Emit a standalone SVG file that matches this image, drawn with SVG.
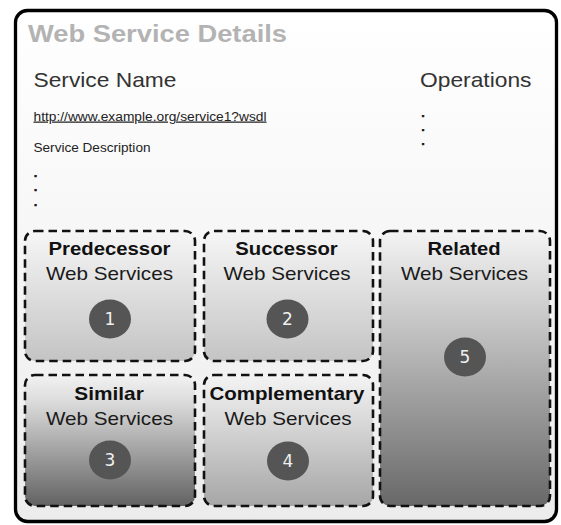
<svg xmlns="http://www.w3.org/2000/svg" width="561" height="525" viewBox="0 0 561 525">
<defs>
<linearGradient id="gOuter" x1="0" y1="0" x2="0" y2="1">
<stop offset="0" stop-color="#ffffff"/>
<stop offset="1" stop-color="#ececec"/>
</linearGradient>
<linearGradient id="gLight" x1="0" y1="0" x2="0" y2="1">
<stop offset="0" stop-color="#f6f6f6"/>
<stop offset="1" stop-color="#c4c4c4"/>
</linearGradient>
<linearGradient id="gMid" x1="0" y1="0" x2="0" y2="1">
<stop offset="0" stop-color="#f4f4f4"/>
<stop offset="1" stop-color="#a6a6a6"/>
</linearGradient>
<linearGradient id="gDark" x1="0" y1="0" x2="0" y2="1">
<stop offset="0" stop-color="#f2f2f2"/>
<stop offset="0.2" stop-color="#dcdcdc"/>
<stop offset="1" stop-color="#626262"/>
</linearGradient>
<linearGradient id="gDark5" x1="0" y1="0" x2="0" y2="1">
<stop offset="0" stop-color="#f4f4f4"/>
<stop offset="0.1" stop-color="#e6e6e6"/>
<stop offset="1" stop-color="#686868"/>
</linearGradient>
</defs>
<style>
.box{stroke:#111;stroke-width:2.6;stroke-dasharray:8.5,5;}
.bold{font-family:"Liberation Sans",Arial,sans-serif;font-weight:bold;font-size:18.6px;fill:#111;text-anchor:middle;}
.reg{font-family:"Liberation Sans",Arial,sans-serif;font-size:18.6px;fill:#1a1a1a;text-anchor:middle;}
.num{font-family:"DejaVu Sans",Verdana,sans-serif;font-size:17px;fill:#f0f0f0;text-anchor:middle;}
.badge{fill:#555555;}
.hdr{font-family:"Liberation Sans",Arial,sans-serif;font-size:21px;fill:#333;}
.small{font-family:"Liberation Sans",Arial,sans-serif;font-size:12.5px;fill:#222;}
.dot{font-family:"Liberation Sans",Arial,sans-serif;font-size:11px;font-weight:bold;fill:#111;stroke:#111;stroke-width:0.7;}
</style>
<g id="frame">
<rect x="15.5" y="10.5" width="541" height="511" rx="12" ry="12" fill="url(#gOuter)" stroke="#000" stroke-width="3.3"/>
<text x="28" y="42" font-family="Liberation Sans, Arial, sans-serif" font-weight="bold" font-size="24" fill="#b3b3b3" textLength="259" lengthAdjust="spacingAndGlyphs">Web Service Details</text>
</g>
<g id="details">
<text class="hdr" x="33.5" y="87.3" textLength="143" lengthAdjust="spacingAndGlyphs">Service Name</text>
<text class="hdr" x="420" y="87.3" textLength="111.5" lengthAdjust="spacingAndGlyphs">Operations</text>
<text class="small" x="33.5" y="120.5" text-decoration="underline" textLength="233" lengthAdjust="spacingAndGlyphs">http://www.example.org/service1?wsdl</text>
<text class="small" x="33.5" y="152.3" textLength="117" lengthAdjust="spacingAndGlyphs">Service Description</text>
<text class="dot" x="34" y="176.5">.</text>
<text class="dot" x="34" y="191">.</text>
<text class="dot" x="34" y="205.5">.</text>
<text class="dot" x="421.5" y="117">.</text>
<text class="dot" x="421.5" y="131">.</text>
<text class="dot" x="421.5" y="145">.</text>
</g>
<g id="connectors"/>
<g id="predecessor">
<rect class="box" x="25" y="231" width="170" height="130" rx="10" fill="url(#gLight)"/>
<text class="bold" x="109.5" y="255" textLength="122" lengthAdjust="spacingAndGlyphs">Predecessor</text>
<text class="reg" x="109.5" y="280" textLength="127" lengthAdjust="spacingAndGlyphs">Web Services</text>
<ellipse class="badge" cx="110" cy="319" rx="21" ry="19.5"/>
<text class="num" x="110" y="325.2">1</text>
</g>
<g id="successor">
<rect class="box" x="204" y="231" width="169" height="130" rx="10" fill="url(#gLight)"/>
<text class="bold" x="286.5" y="255" textLength="102.5" lengthAdjust="spacingAndGlyphs">Successor</text>
<text class="reg" x="287" y="280" textLength="127" lengthAdjust="spacingAndGlyphs">Web Services</text>
<ellipse class="badge" cx="287.5" cy="319" rx="21" ry="19.5"/>
<text class="num" x="287.5" y="325.2">2</text>
</g>
<g id="similar">
<rect class="box" x="25" y="375" width="170" height="131" rx="10" fill="url(#gDark)"/>
<text class="bold" x="109" y="400" textLength="69.5" lengthAdjust="spacingAndGlyphs">Similar</text>
<text class="reg" x="109.5" y="424.5" textLength="127" lengthAdjust="spacingAndGlyphs">Web Services</text>
<ellipse class="badge" cx="110" cy="460" rx="21" ry="19.5"/>
<text class="num" x="110" y="466.2">3</text>
</g>
<g id="complementary">
<rect class="box" x="204" y="375" width="169" height="131" rx="10" fill="url(#gMid)"/>
<text class="bold" x="287" y="400" textLength="155" lengthAdjust="spacingAndGlyphs">Complementary</text>
<text class="reg" x="288" y="425" textLength="127" lengthAdjust="spacingAndGlyphs">Web Services</text>
<ellipse class="badge" cx="288" cy="461" rx="21" ry="19.5"/>
<text class="num" x="288" y="467.2">4</text>
</g>
<g id="related">
<rect class="box" x="380" y="231" width="170" height="275" rx="10" fill="url(#gDark5)"/>
<text class="bold" x="464" y="255" textLength="73" lengthAdjust="spacingAndGlyphs">Related</text>
<text class="reg" x="464.5" y="280" textLength="127" lengthAdjust="spacingAndGlyphs">Web Services</text>
<ellipse class="badge" cx="465" cy="357" rx="21" ry="19.5"/>
<text class="num" x="465" y="363.2">5</text>
</g>
</svg>
